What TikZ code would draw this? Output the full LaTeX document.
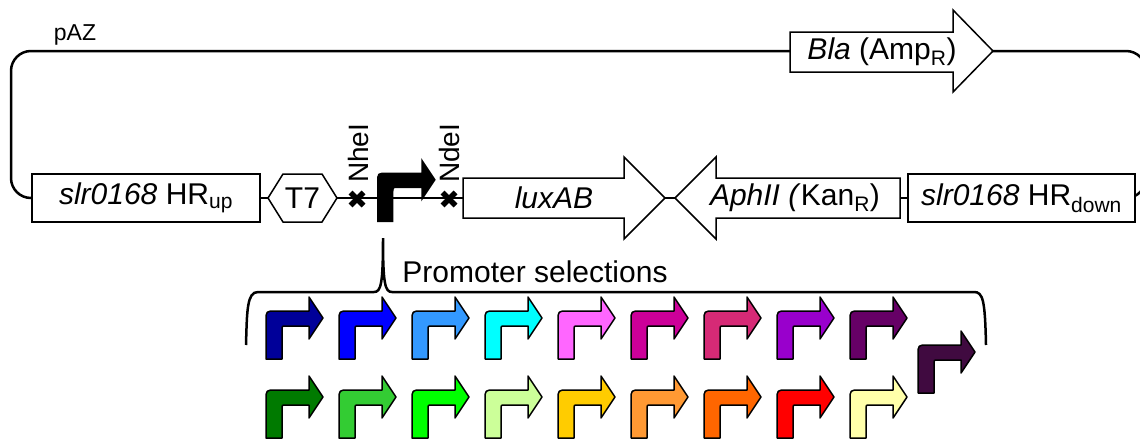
\documentclass[tikz,border=0pt]{standalone}
\usepackage{fontspec}
\setmainfont{Liberation Sans}
\definecolor{c1}{HTML}{000099}
\definecolor{c2}{HTML}{0000FF}
\definecolor{c3}{HTML}{3399FF}
\definecolor{c4}{HTML}{00FFFF}
\definecolor{c5}{HTML}{FF66FF}
\definecolor{c6}{HTML}{CC0099}
\definecolor{c7}{HTML}{D62A76}
\definecolor{c8}{HTML}{9900CC}
\definecolor{c9}{HTML}{660066}
\definecolor{c10}{HTML}{400A40}
\definecolor{d1}{HTML}{007A00}
\definecolor{d2}{HTML}{33CC33}
\definecolor{d3}{HTML}{00FF00}
\definecolor{d4}{HTML}{CCFF99}
\definecolor{d5}{HTML}{FFCC00}
\definecolor{d6}{HTML}{FF9933}
\definecolor{d7}{HTML}{FF6600}
\definecolor{d8}{HTML}{FF0000}
\definecolor{d9}{HTML}{FFFFAA}
\tikzset{
  lbl/.style={font=\fontsize{30}{36}\selectfont, inner sep=0pt},
  enz/.style={font=\fontsize{28}{34}\selectfont, inner sep=0pt, rotate=90, anchor=west},
  hrbox/.style={draw, fill=white, line width=1.5pt, inner sep=0pt, minimum height=48pt, font=\fontsize{30}{36}\selectfont},
  part/.style={draw, fill=white, line width=1.5pt, line join=miter},
  bb/.style={line width=2.5pt},
  cutx/.style={line width=5.5pt},
  cprom/.style={draw=black, line width=1.5pt, line join=round},
  prom/.pic={
    \path[pic actions] (0,0) -- (0,-38) .. controls (0,-48) .. (10,-48) -- (43,-48) -- (43,-62) -- (57,-41) -- (43,-20) -- (43,-33) -- (19,-33) .. controls (16,-33) .. (16,-30) -- (16,0) -- cycle;
  }
}
\begin{document}
\begin{tikzpicture}[x=1pt,y=-1pt]
\useasboundingbox (0,0) rectangle (1140,439);
% parts as nodes
\node[hrbox, minimum width=228pt] (hrup) at (146,198) {\textit{slr0168} HR\textsubscript{up}};
\node[hrbox, minimum width=227pt] (hrdown) at (1021.5,198) {\textit{slr0168} HR\textsubscript{down}};
% backbone
\draw[bb, rounded corners=20pt] (hrup.west) -- (11,198) -- (11,51) -- (1146,51) -- (1146,198) -- (hrdown.east);
\draw[bb] (hrup.east) -- (hrdown.west);
% redraw boxes on top
\node[hrbox, minimum width=228pt] at (hrup) {\textit{slr0168} HR\textsubscript{up}};
\node[hrbox, minimum width=227pt] at (hrdown) {\textit{slr0168} HR\textsubscript{down}};
% T7 hexagon
\draw[part] (268,198) -- (283,174) -- (322,174) -- (337,198) -- (322,222) -- (283,222) -- cycle;
\node[lbl] (t7) at (302.5,198) {T7};
% Bla arrow
\draw[part] (790,32) -- (953,32) -- (953,10) -- (993,51) -- (953,92) -- (953,72) -- (790,72) -- cycle;
\node[lbl] (bla) at (882,52) {\textit{Bla} (Amp\textsubscript{R})};
% luxAB arrow
\draw[part] (463,178) -- (624,178) -- (624,157) -- (665,198) -- (624,239) -- (624,218) -- (463,218) -- cycle;
\node[lbl] (lux) at (554,198) {\textit{luxAB}};
% AphII arrow
\draw[part] (900,178) -- (716,178) -- (716,157) -- (675,198) -- (716,239) -- (716,218) -- (900,218) -- cycle;
\node[lbl] (aph) at (795,198) {\textit{AphII (}Kan\textsubscript{R})};
% pAZ label
\node[font=\fontsize{23}{28}\selectfont, inner sep=0pt] (paz) at (75,35) {pAZ};
% restriction sites
\coordinate (nhe) at (357,199);
\coordinate (nde) at (449,199);
\draw[cutx] ([shift={(-6.5,-6.5)}]nhe) -- ([shift={(6.5,6.5)}]nhe);
\draw[cutx] ([shift={(-6.5,6.5)}]nhe) -- ([shift={(6.5,-6.5)}]nhe);
\draw[cutx] ([shift={(-6.5,-6.5)}]nde) -- ([shift={(6.5,6.5)}]nde);
\draw[cutx] ([shift={(-6.5,6.5)}]nde) -- ([shift={(6.5,-6.5)}]nde);
\node[enz] (nhel) at (358,183) {NheI};
\node[enz] (ndel) at (449,183) {NdeI};
% main promoter
\pic[fill=black, scale=1.03] at (377,222) {prom};
% brace
\draw[line width=2.5pt] (246,345) .. controls (247,310) and (247,292) .. (258,292) -- (374,292) .. controls (381,292) and (383,284) .. (383,238) .. controls (383,284) and (385,292) .. (392,292) -- (974,292) .. controls (983,292) and (985,300) .. (986,345);
\node[lbl] (sel) at (535,272) {Promoter selections};
% promoter selections
\foreach \c [count=\i from 0] in {c1,c2,c3,c4,c5,c6,c7,c8,c9}{
  \pic[cprom, fill=\c] at (266+73*\i,359) {prom};
}
\foreach \c [count=\i from 0] in {d1,d2,d3,d4,d5,d6,d7,d8,d9}{
  \pic[cprom, fill=\c] at (266+73*\i,438) {prom};
}
\pic[cprom, fill=c10] at (918,393) {prom};
\end{tikzpicture}
\end{document}
